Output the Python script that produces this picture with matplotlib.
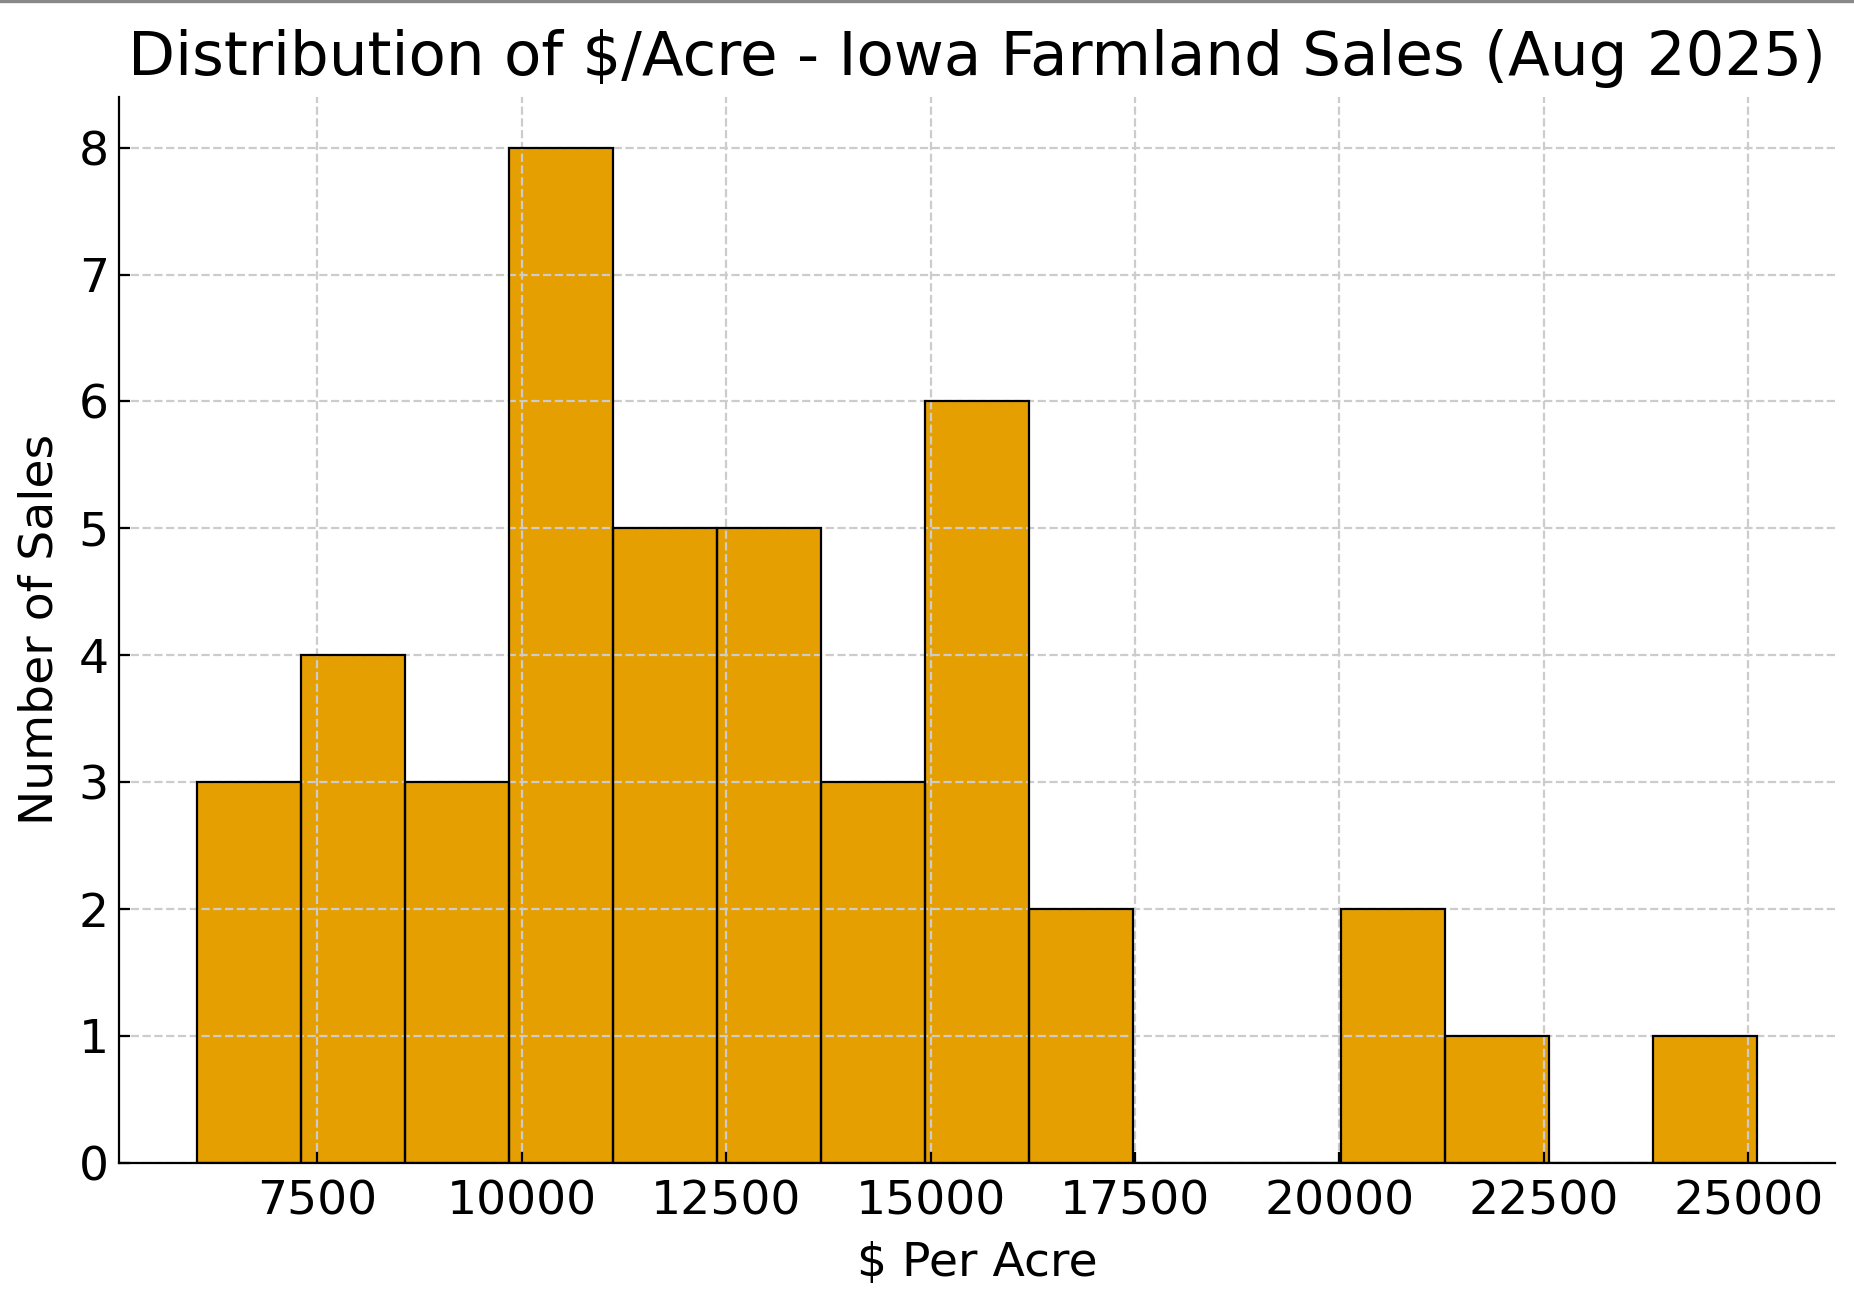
import numpy as np
import matplotlib
matplotlib.use("Agg")
import matplotlib.pyplot as plt
from matplotlib.lines import Line2D

# histogram: 15 equal bins between the min and max price
price_min = 6023
price_max = 25113
bin_counts = [3, 4, 3, 8, 5, 5, 3, 6, 2, 0, 0, 2, 1, 0, 1]
x_ticks = [7500, 10000, 12500, 15000, 17500, 20000, 22500, 25000]
y_ticks = [0, 1, 2, 3, 4, 5, 6, 7, 8]

edges = np.linspace(price_min, price_max, len(bin_counts) + 1)
centers = (edges[:-1] + edges[1:]) / 2

fig = plt.figure(figsize=(9.27, 6.46), dpi=200)
ax = fig.add_axes([0.064, 0.100, 0.926, 0.825])

# fill below the grid, black outlines above it
ax.hist(centers, bins=edges, weights=bin_counts, color="#E69F00",
        linewidth=0, zorder=1)
ax.hist(centers, bins=edges, weights=bin_counts, fill=False,
        edgecolor="black", linewidth=0.8, zorder=3)

ax.set_title("Distribution of $/Acre - Iowa Farmland Sales (Aug 2025)",
             fontsize=22, pad=8)
ax.set_xlabel("$ Per Acre", fontsize=17, labelpad=6)
ax.set_ylabel("Number of Sales", fontsize=17, labelpad=6)
ax.set_xticks(x_ticks)
ax.set_yticks(y_ticks)
ax.tick_params(direction="in", labelsize=17, length=4, width=0.8)
ax.tick_params(axis="x", pad=6)

ax.grid(True, linestyle="--", color="#cccccc", linewidth=0.8, zorder=2)
ax.set_axisbelow(False)
for side in ["top", "right"]:
    ax.spines[side].set_visible(False)
for side in ["left", "bottom"]:
    ax.spines[side].set_zorder(4)

# thin grey border line along the top of the picture
fig.add_artist(Line2D([0, 1], [0.999, 0.999], transform=fig.transFigure,
                      color="#888888", linewidth=1.2))

fig.savefig("out.png", dpi=200)
